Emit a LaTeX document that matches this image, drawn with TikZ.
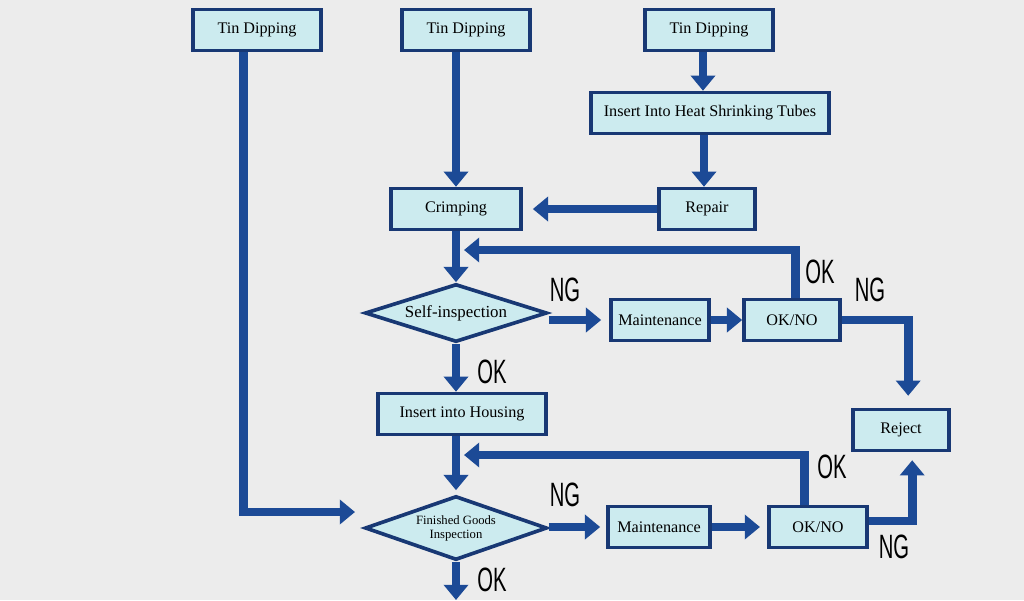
\documentclass[tikz,border=0pt]{standalone}
\usepackage{fontspec}
\setmainfont{Liberation Serif}
\setsansfont{Liberation Sans}
\usepackage{graphicx}
\usetikzlibrary{arrows.meta,positioning,shapes.geometric,calc}
\definecolor{wireGrey}{RGB}{236, 236, 236}
\definecolor{wireLightCyan}{RGB}{204, 235, 239}
\definecolor{wireNavy}{RGB}{24, 56, 116}
\definecolor{wireBlue}{RGB}{28, 74, 150}
\newcommand{\verdictmark}[1]{\scalebox{0.6}[1]{#1}}

\begin{document}
\begin{tikzpicture}[
  x=0.025cm, y=-0.025cm,
  processbox/.style={
    draw=wireNavy,
    line width=2.6pt,
    fill=wireLightCyan,
    minimum height=1.02cm,
    align=center,
    inner sep=2pt,
    font=\fontsize{11.5}{13}\selectfont
  },
  decision/.style={
    diamond,
    draw=wireNavy,
    line width=2.6pt,
    fill=wireLightCyan,
    minimum width=4.55cm,
    minimum height=1.45cm,
    aspect=3,
    inner sep=0pt,
    align=center,
    font=\fontsize{12}{13}\selectfont
  },
  flow/.style={-{Triangle[width=0.6cm,length=0.38cm]},line width=0.22cm,wireBlue},
  verdict/.style={inner sep=0pt,font=\fontsize{24}{24}\selectfont\sffamily}
]
  \useasboundingbox (0,0) rectangle (1024,600);
  \fill[wireGrey] (0,0) rectangle (1024,600);

  % three feeding lines
  \node[processbox,minimum width=3.2cm] (tinA) at (257,30) {Tin Dipping};
  \node[processbox,minimum width=3.2cm] (tinB) at (466,30) {Tin Dipping};
  \node[processbox,minimum width=3.2cm] (tinC) at (709,30) {Tin Dipping};
  \node[processbox,minimum width=5.95cm] (heat) at (710,113) {Insert Into Heat Shrinking Tubes};
  \node[processbox,minimum width=3.25cm] (crimp) at (456,209) {Crimping};
  \node[processbox,minimum width=2.4cm] (repair) at (707,209) {Repair};

  % first check
  \node[decision] (selfi) at (456,313) {Self-inspection};
  \node[processbox,minimum width=2.45cm] (maintA) at (660,320) {Maintenance};
  \node[processbox,minimum width=2.4cm] (okA) at (792,320) {OK/NO};
  \node[processbox,minimum width=4.2cm] (housing) at (462,414) {Insert into Housing};
  \node[processbox,minimum width=2.4cm] (reject) at (901,430) {Reject};

  % final check
  \node[decision,minimum height=1.6cm,font=\fontsize{9}{10}\selectfont] (fgi) at (456,528) {Finished Goods\\Inspection};
  \node[processbox,minimum width=2.55cm] (maintB) at (659,527) {Maintenance};
  \node[processbox,minimum width=2.45cm] (okB) at (818,527) {OK/NO};

  \coordinate (fgiIn) at (355,512);
  \coordinate (loopA) at (464,250);
  \coordinate (loopB) at (464,455);
  \coordinate (fgiOut) at (456,600);

  \draw[flow] ([xshift=-0.33cm]tinA.south) |- (fgiIn);
  \draw[flow] (tinB.south -| crimp.north) -- (crimp.north);
  \draw[flow] ([xshift=-0.15cm]tinC.south) -- ([xshift=-0.15cm]tinC.south |- heat.north);
  \draw[flow] ([xshift=-0.15cm]heat.south) -- ([xshift=-0.15cm]heat.south |- repair.north);
  \draw[flow] (repair.west) -- ([xshift=0.25cm]crimp.east);
  \draw[flow] (crimp.south) -- (selfi.north);
  \draw[flow] (selfi.east |- maintA) -- ([xshift=-0.2cm]maintA.west);
  \draw[flow] (maintA) -- (okA);
  \draw[flow] ([xshift=0.08cm]okA.north) |- (loopA);
  \draw[flow] (okA.east) -| ([xshift=0.18cm,yshift=0.3cm]reject.north);
  \draw[flow] (selfi.south) -- (selfi.south |- housing.north);
  \draw[flow] (housing.south -| selfi.south) -- ([yshift=0.1cm]fgi.north);
  \draw[flow] ([xshift=-0.33cm]okB.north) |- (loopB);
  \draw[flow] (fgi.east |- maintB) -- ([xshift=-0.15cm]maintB.west);
  \draw[flow] (maintB) -- ([xshift=-0.18cm]okB.west);
  \draw[flow] ([yshift=0.15cm]okB.east) -| ([xshift=0.28cm,yshift=-0.2cm]reject.south);
  \draw[flow] (fgi.south) -- (fgiOut);

  \node[verdict] (ngSelf) at (565,290) {\verdictmark{NG}};
  \node[verdict] (okRetry) at (820,272) {\verdictmark{OK}};
  \node[verdict] (ngRetry) at (870,290) {\verdictmark{NG}};
  \node[verdict] (okSelf) at (492,372) {\verdictmark{OK}};
  \node[verdict] (okRecheck) at (832,467) {\verdictmark{OK}};
  \node[verdict] (ngFinal) at (565,495) {\verdictmark{NG}};
  \node[verdict] (ngRecheck) at (894,547) {\verdictmark{NG}};
  \node[verdict] (okFinal) at (492,580) {\verdictmark{OK}};
\end{tikzpicture}
\end{document}
